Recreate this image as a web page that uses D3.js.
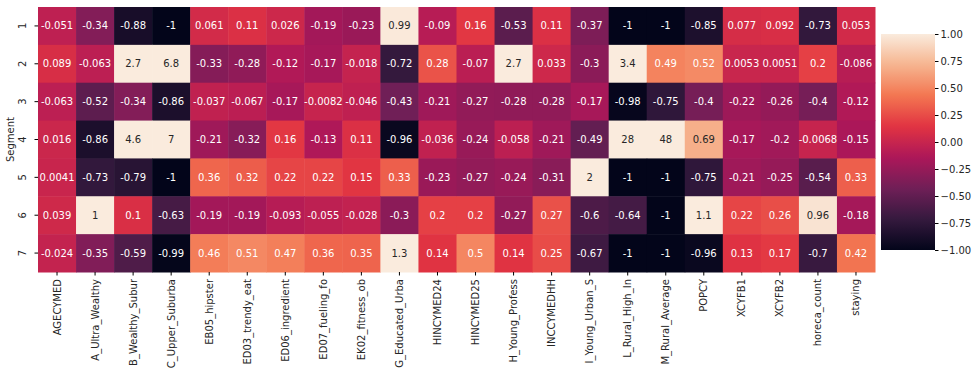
<!DOCTYPE html>
<html>
<head>
<meta charset="utf-8">
<script src="https://cdn.jsdelivr.net/npm/d3@7"></script>
<style>
  body { margin: 0; background: #fff; }
  svg text { font-family: "DejaVu Sans", sans-serif; }
</style>
</head>
<body>
<div id="chart"></div>
<script>
var columns = ["AGECYMED", "A_Ultra_Wealthy", "B_Wealthy_Subur", "C_Upper_Suburba", "EB05_hipster",
    "ED03_trendy_eat", "ED06_ingredient", "ED07_fueling_fo", "EK02_fitness_ob", "G_Educated_Urba",
    "HINCYMED24", "HINCYMED25", "H_Young_Profess", "INCCYMEDHH", "I_Young_Urban_S", "L_Rural_High_In",
    "M_Rural_Average", "POPCY", "XCYFB1", "XCYFB2", "horeca_count", "staying"];
var segments = ["1", "2", "3", "4", "5", "6", "7"];

var seg1 = [-0.051, -0.34, -0.88, -1, 0.061, 0.11, 0.026, -0.19, -0.23, 0.99, -0.09, 0.16, -0.53, 0.11, -0.37, -1, -1, -0.85, 0.077, 0.092, -0.73, 0.053];
var seg2 = [0.089, -0.063, 2.7, 6.8, -0.33, -0.28, -0.12, -0.17, -0.018, -0.72, 0.28, -0.07, 2.7, 0.033, -0.3, 3.4, 0.49, 0.52, 0.0053, 0.0051, 0.2, -0.086];
var seg3 = [-0.063, -0.52, -0.34, -0.86, -0.037, -0.067, -0.17, -0.0082, -0.046, -0.43, -0.21, -0.27, -0.28, -0.28, -0.17, -0.98, -0.75, -0.4, -0.22, -0.26, -0.4, -0.12];
var seg4 = [0.016, -0.86, 4.6, 7, -0.21, -0.32, 0.16, -0.13, 0.11, -0.96, -0.036, -0.24, -0.058, -0.21, -0.49, 28, 48, 0.69, -0.17, -0.2, -0.0068, -0.15];
var seg5 = [0.0041, -0.73, -0.79, -1, 0.36, 0.32, 0.22, 0.22, 0.15, 0.33, -0.23, -0.27, -0.24, -0.31, 2, -1, -1, -0.75, -0.21, -0.25, -0.54, 0.33];
var seg6 = [0.039, 1, 0.1, -0.63, -0.19, -0.19, -0.093, -0.055, -0.028, -0.3, 0.2, 0.2, -0.27, 0.27, -0.6, -0.64, -1, 1.1, 0.22, 0.26, 0.96, -0.18];
var seg7 = [-0.024, -0.35, -0.59, -0.99, 0.46, 0.51, 0.47, 0.36, 0.35, 1.3, 0.14, 0.5, 0.14, 0.25, -0.67, -1, -1, -0.96, 0.13, 0.17, -0.7, 0.42];
var values = [seg1, seg2, seg3, seg4, seg5, seg6, seg7];

var colorTicks = [1, 0.75, 0.5, 0.25, 0, -0.25, -0.5, -0.75, -1];

// rocket colormap, approximated by a few anchor colours
var rocketStops = ["#03051a", "#35193e", "#701f57", "#ad1759", "#e13342", "#f37651", "#f6b48f", "#faebdd"];

var width = 979, height = 376;
var plotLeft = 38, plotRight = 875, plotTop = 7, plotBottom = 272;

var svg = d3.select('#chart')
    .append('svg')
    .attr('width', width)
    .attr('height', height);

var x = d3.scaleBand().domain(columns).range([plotLeft, plotRight]);
var y = d3.scaleBand().domain(segments).range([plotTop, plotBottom]);

var color = d3.scaleLinear()
    .domain(d3.range(rocketStops.length).map(function (i) { return -1 + 2 * i / (rocketStops.length - 1); }))
    .range(rocketStops)
    .interpolate(d3.interpolateRgb)
    .clamp(true);

function luminance(c) {
    var rgb = d3.rgb(c);
    var ch = [rgb.r, rgb.g, rgb.b].map(function (v) {
        v = v / 255;
        return v <= 0.03928 ? v / 12.92 : Math.pow((v + 0.055) / 1.055, 2.4);
    });
    return 0.2126 * ch[0] + 0.7152 * ch[1] + 0.0722 * ch[2];
}

var cells = [];
values.forEach(function (row, i) {
    row.forEach(function (v, j) {
        cells.push({ seg: segments[i], col: columns[j], value: v });
    });
});

var g = svg.append('g');

g.selectAll('rect')
    .data(cells)
    .enter().append('rect')
    .attr('x', function (d) { return x(d.col); })
    .attr('y', function (d) { return y(d.seg); })
    .attr('width', x.bandwidth() + 0.5)
    .attr('height', y.bandwidth() + 0.5)
    .attr('fill', function (d) { return color(d.value); });

g.selectAll('text.annot')
    .data(cells)
    .enter().append('text')
    .attr('class', 'annot')
    .attr('x', function (d) { return x(d.col) + x.bandwidth() / 2; })
    .attr('y', function (d) { return y(d.seg) + y.bandwidth() / 2; })
    .attr('text-anchor', 'middle')
    .attr('dominant-baseline', 'central')
    .style('font-size', '10px')
    .attr('fill', function (d) { return luminance(color(d.value)) > 0.408 ? '#262626' : '#ffffff'; })
    .text(function (d) { return String(d.value); });

// x axis
var xAxis = svg.append('g')
    .attr('transform', 'translate(0,' + plotBottom + ')')
    .call(d3.axisBottom(x).tickSize(3.5).tickPadding(3.5));
xAxis.select('.domain').remove();
xAxis.selectAll('text')
    .style('font-size', '10px')
    .attr('fill', '#262626')
    .attr('transform', 'rotate(-90)')
    .attr('text-anchor', 'end')
    .attr('dominant-baseline', 'central')
    .attr('x', -7)
    .attr('y', 0)
    .attr('dy', null);

// y axis
var yAxis = svg.append('g')
    .attr('transform', 'translate(' + plotLeft + ',0)')
    .call(d3.axisLeft(y).tickSize(3.5).tickPadding(3.5));
yAxis.select('.domain').remove();
yAxis.selectAll('text')
    .style('font-size', '10px')
    .attr('fill', '#262626')
    .attr('text-anchor', 'middle')
    .attr('dy', null)
    .attr('x', null)
    .attr('transform', 'translate(-12,0) rotate(-90)');

svg.append('text')
    .attr('transform', 'translate(14,' + ((plotTop + plotBottom) / 2) + ') rotate(-90)')
    .attr('text-anchor', 'middle')
    .style('font-size', '10px')
    .attr('fill', '#262626')
    .text('Segment');

// colorbar
var cbX = 881, cbW = 54, cbTop = 34, cbBottom = 250;
var cbScale = d3.scaleLinear().domain([-1, 1]).range([cbBottom, cbTop]);

var grad = svg.append('defs').append('linearGradient')
    .attr('id', 'cbgrad')
    .attr('x1', 0).attr('y1', 1).attr('x2', 0).attr('y2', 0);
grad.selectAll('stop')
    .data(d3.range(0, 1.0001, 0.02))
    .enter().append('stop')
    .attr('offset', function (t) { return t; })
    .attr('stop-color', function (t) { return color(-1 + 2 * t); });

svg.append('rect')
    .attr('x', cbX)
    .attr('y', cbTop)
    .attr('width', cbW)
    .attr('height', cbBottom - cbTop)
    .attr('fill', 'url(#cbgrad)');

var cbAxis = svg.append('g')
    .attr('transform', 'translate(' + (cbX + cbW) + ',0)')
    .call(d3.axisRight(cbScale).tickValues(colorTicks).tickSize(3.5).tickPadding(2)
        .tickFormat(function (d) { return d3.format('.2f')(d).replace('-', '\u2212'); }));
cbAxis.select('.domain').remove();
cbAxis.selectAll('text').style('font-size', '10px').attr('fill', '#262626');
</script>
</body>
</html>
